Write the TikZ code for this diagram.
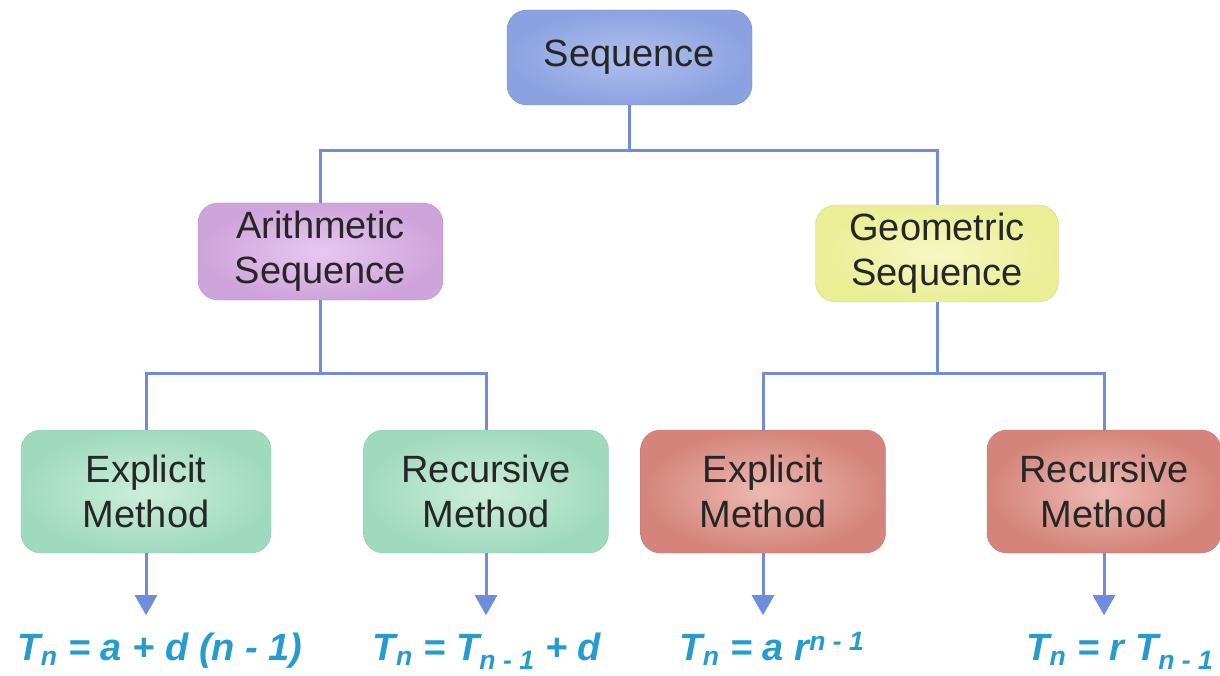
\documentclass[tikz,border=0pt]{standalone}
\usepackage{fontspec}
\setmainfont{Liberation Sans}
\usetikzlibrary{arrows.meta, shadings}

\definecolor{linkblue}{RGB}{112,140,222}
\definecolor{formblue}{RGB}{38,155,205}
\definecolor{seqfill}{RGB}{140,162,224}
\definecolor{seqin}{RGB}{176,192,238}
\definecolor{arifill}{RGB}{206,164,218}
\definecolor{ariin}{RGB}{232,200,240}
\definecolor{geofill}{RGB}{234,238,148}
\definecolor{geoin}{RGB}{246,248,196}
\definecolor{grnfill}{RGB}{160,218,190}
\definecolor{grnin}{RGB}{204,238,220}
\definecolor{redfill}{RGB}{212,132,122}
\definecolor{redin}{RGB}{236,186,178}

\begin{document}
\begin{tikzpicture}[x=1pt, y=-1pt,
    box/.style={rounded corners=20pt, align=center, inner sep=0pt,
        font=\fontsize{38}{45}\selectfont, text=black!85},
    link/.style={draw=linkblue, line width=3pt},
    down/.style={link, -{Triangle[width=22pt, length=20pt]}},
    formula/.style={text=formblue, font=\fontsize{38}{42}\selectfont\bfseries\itshape}]
    \useasboundingbox (0,0) rectangle (1220,676);
    % boxes
    \node[box, draw=seqfill!85!black, inner color=seqin, outer color=seqfill, minimum width=245pt, minimum height=95pt] (seq) at (629.5,57.5) {Sequence};
    \node[box, draw=arifill!90!black, inner color=ariin, outer color=arifill, minimum width=245pt, minimum height=97pt] (ari) at (320.5,251.5) {Arithmetic\\Sequence};
    \node[box, draw=geofill!90!black, inner color=geoin, outer color=geofill, minimum width=243pt, minimum height=97pt] (geo) at (937,253.5) {Geometric\\Sequence};
    \node[box, draw=grnfill!90!black, inner color=grnin, outer color=grnfill, minimum width=250pt, minimum height=123pt] (aexp) at (146,491.5) {Explicit\\Method};
    \node[box, draw=grnfill!90!black, inner color=grnin, outer color=grnfill, minimum width=245pt, minimum height=123pt] (arec) at (486,491.5) {Recursive\\Method};
    \node[box, draw=redfill!90!black, inner color=redin, outer color=redfill, minimum width=245pt, minimum height=123pt] (gexp) at (763,491.5) {Explicit\\Method};
    \node[box, draw=redfill!90!black, inner color=redin, outer color=redfill, minimum width=234pt, minimum height=123pt] (grec) at (1104,491.5) {Recursive\\Method};
    % formulas
    \node[formula, anchor=base] (faexp) at (160,660) {T\textsubscript{n} = a + d (n - 1)};
    \node[formula, anchor=base] (farec) at (487,660) {T\textsubscript{n} = T\textsubscript{n - 1} + d};
    \node[formula, anchor=base] (fgexp) at (772,660) {T\textsubscript{n} = a r\textsuperscript{n - 1}};
    \node[formula, anchor=base] (fgrec) at (1120,660) {T\textsubscript{n} = r T\textsubscript{n - 1}};
    % tree lines
    \draw[link] (seq.south) -- ++(0,45) coordinate (j0) -| (ari.north);
    \draw[link] (j0) -| (geo.north);
    \draw[link] (ari.south) -- ++(0,73) coordinate (j1) -| (aexp.north);
    \draw[link] (j1) -| (arec.north);
    \draw[link] (geo.south) -- ++(0,71) coordinate (j2) -| (gexp.north);
    \draw[link] (j2) -| (grec.north);
    % arrows to formulas
    \draw[down] (aexp.south) -- ++(0,62) coordinate (e1);
    \draw[down] (arec.south) -- ++(0,62) coordinate (e2);
    \draw[down] (gexp.south) -- ++(0,62) coordinate (e3);
    \draw[down] (grec.south) -- ++(0,62) coordinate (e4);
\end{tikzpicture}
\end{document}
